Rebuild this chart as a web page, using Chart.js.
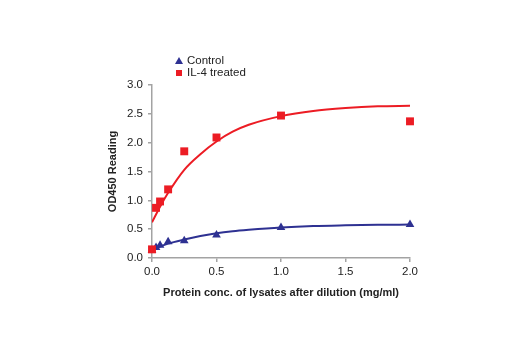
<!DOCTYPE html>
<html>
<head>
<meta charset="utf-8">
<script src="https://cdn.jsdelivr.net/npm/chart.js@4/dist/chart.umd.min.js"></script>
<style>
  html, body { margin: 0; padding: 0; background: #fff; }
  #wrap { width: 520px; height: 350px; position: relative; }
</style>
</head>
<body>
<div id="wrap"><canvas id="chart"></canvas></div>
<script>
// Protein concentration (mg/ml) of the dilution series
const concentrations = [0, 0.03125, 0.0625, 0.125, 0.25, 0.5, 1.0, 2.0]
const controlValues = [0.13, 0.18, 0.22, 0.28, 0.30, 0.40, 0.53, 0.58]
const il4Values = [0.15, 0.87, 0.98, 1.19, 1.85, 2.09, 2.47, 2.37]

// Fitted curves
const curveX = [0, 0.0625, 0.125, 0.25, 0.375, 0.5, 0.625, 0.75, 1.0, 1.25, 1.5, 1.75, 2.0]
const il4Curve = [0.62, 0.89, 1.13, 1.53, 1.80, 2.02, 2.19, 2.31, 2.46, 2.55, 2.60, 2.63, 2.64]
const controlCurve = [0.14, 0.20, 0.25, 0.32, 0.38, 0.43, 0.465, 0.49, 0.53, 0.555, 0.567, 0.575, 0.58]

const xTicks = [0, 0.5, 1.0, 1.5, 2.0]
const RED = '#ec1c24'
const BLUE = '#2e3192'
const AXIS = '#a3a3a3'
const FONT = "'Liberation Sans', Arial, sans-serif"

const toXY = (xs, ys) => xs.map((x, i) => ({ x, y: ys[i] }))

// Two-line legend above the plot (built-in legend can't stack items here)
const sideLegend = {
  id: 'sideLegend',
  afterDraw(chart) {
    const ctx = chart.ctx
    const items = [
      { text: 'Control', style: 'triangle', color: BLUE, y: 61 },
      { text: 'IL-4 treated', style: 'rect', color: RED, y: 73 }
    ]
    ctx.save()
    ctx.font = '11.5px ' + FONT
    ctx.textBaseline = 'middle'
    for (const it of items) {
      ctx.fillStyle = it.color
      ctx.beginPath()
      if (it.style === 'rect') ctx.rect(176, it.y - 3, 6, 6)
      else { ctx.moveTo(179, it.y - 4); ctx.lineTo(183, it.y + 3); ctx.lineTo(175, it.y + 3); ctx.closePath() }
      ctx.fill()
      ctx.fillStyle = '#222'
      ctx.fillText(it.text, 187, it.y)
    }
    ctx.restore()
  }
}

new Chart(document.getElementById('chart'), {
  type: 'scatter',
  data: {
    datasets: [
      {
        label: 'IL-4 treated',
        data: toXY(concentrations, il4Values),
        pointStyle: 'rect', pointRadius: 5.6, pointHoverRadius: 5.6,
        backgroundColor: RED, borderWidth: 0, order: 1, clip: false
      },
      {
        label: 'Control',
        data: toXY(concentrations, controlValues),
        pointStyle: 'triangle', pointRadius: 5, pointHoverRadius: 5,
        backgroundColor: BLUE, borderWidth: 0, order: 1, clip: false
      },
      {
        label: 'IL-4 fit',
        data: toXY(curveX, il4Curve),
        showLine: true, pointRadius: 0, borderColor: RED, borderWidth: 2,
        cubicInterpolationMode: 'monotone', order: 2
      },
      {
        label: 'Control fit',
        data: toXY(curveX, controlCurve),
        showLine: true, pointRadius: 0, borderColor: BLUE, borderWidth: 2,
        cubicInterpolationMode: 'monotone', order: 2
      }
    ]
  },
  options: {
    responsive: true,
    maintainAspectRatio: false,
    animation: false,
    layout: { padding: { left: 102, right: 110, top: 85, bottom: 46 } },
    plugins: { legend: { display: false }, tooltip: { enabled: false } },
    scales: {
      x: {
        type: 'linear', min: 0, max: 2,
        afterFit(scale) { scale.height = 46 },
        afterBuildTicks(scale) { scale.ticks = xTicks.map(v => ({ value: v })) },
        border: { color: AXIS, width: 1.5 },
        grid: { drawOnChartArea: false, tickLength: 4, color: AXIS, lineWidth: 1.5 },
        ticks: { padding: 3, color: '#222', font: { family: FONT, size: 11.5 }, callback: v => v.toFixed(1) },
        title: { display: true, text: 'Protein conc. of lysates after dilution (mg/ml)', color: '#222', font: { family: FONT, size: 11, weight: 'bold' } }
      },
      y: {
        min: 0, max: 3,
        afterFit(scale) { scale.width = 50 },
        border: { color: AXIS, width: 1.5 },
        grid: { drawOnChartArea: false, tickLength: 4, color: AXIS, lineWidth: 1.5 },
        ticks: { stepSize: 0.5, padding: 5, color: '#222', font: { family: FONT, size: 11.5 }, callback: v => v.toFixed(1) },
        title: { display: true, text: 'OD450 Reading', color: '#222', font: { family: FONT, size: 11, weight: 'bold' } }
      }
    }
  },
  plugins: [sideLegend]
})
</script>
</body>
</html>
